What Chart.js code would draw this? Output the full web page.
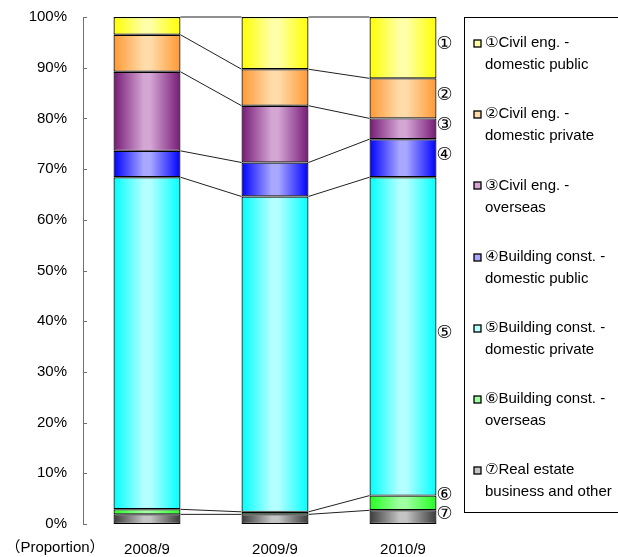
<!DOCTYPE html>
<html>
<head>
<meta charset="utf-8">
<script src="https://cdn.jsdelivr.net/npm/chart.js@4"></script>
<style>
  html, body { margin: 0; padding: 0; background: #fff; }
  #wrap { width: 618px; height: 557px; }
</style>
</head>
<body>
<div id="wrap"><canvas id="chart" width="618" height="557"></canvas></div>
<script>
// ── data (percent of total) ──────────────────────────────────────────────────
const CATEGORIES = ['2008/9', '2009/9', '2010/9'];
const CIVIL_PUBLIC    = [3.5, 10.3, 12.1];
const CIVIL_PRIVATE   = [7.3, 7.2, 7.9];
const CIVIL_OVERSEAS  = [15.6, 11.2, 4.1];
const BUILD_PUBLIC    = [5.2, 6.7, 7.5];
const BUILD_PRIVATE   = [65.5, 62.2, 62.8];
const BUILD_OVERSEAS  = [1.0, 0.5, 2.9];
const REAL_ESTATE     = [1.9, 1.9, 2.7];
const MARKS = ['①', '②', '③', '④', '⑤', '⑥', '⑦'];
const LEGEND_TEXT = [
  ['①Civil eng. -', 'domestic public'],
  ['②Civil eng. -', 'domestic private'],
  ['③Civil eng. -', 'overseas'],
  ['④Building const. -', 'domestic public'],
  ['⑤Building const. -', 'domestic private'],
  ['⑥Building const. -', 'overseas'],
  ['⑦Real estate', 'business and other']
];
const Y_AXIS_NOTE = '（Proportion）';

// top → bottom order, same as legend
const SERIES = [CIVIL_PUBLIC, CIVIL_PRIVATE, CIVIL_OVERSEAS, BUILD_PUBLIC,
                BUILD_PRIVATE, BUILD_OVERSEAS, REAL_ESTATE];

// gradient colours: edge / centre
const EDGE   = ['#ffff00', '#ff9933', '#761a76', '#0000ff', '#00ffff', '#22ff22', '#3a3a3a'];
const CENTRE = ['#ffffa8', '#ffdcaa', '#d4a6d4', '#a8a8ff', '#b4ffff', '#a0ffa0', '#c4c4c4'];

const FONT = "'Liberation Sans', 'DejaVu Sans', 'Noto Sans CJK JP', sans-serif";
const BAR_PCT = 0.523;

function barGradient(idx) {
  return (c) => {
    const chart = c.chart;
    const xs = chart.scales.x;
    if (!xs || !chart.chartArea) return EDGE[idx];
    const cx = xs.getPixelForValue(c.dataIndex);
    const half = (xs.width / CATEGORIES.length) * BAR_PCT / 2;
    const g = chart.ctx.createLinearGradient(cx - half, 0, cx + half, 0);
    g.addColorStop(0, EDGE[idx]);
    g.addColorStop(0.45, CENTRE[idx]);
    g.addColorStop(0.55, CENTRE[idx]);
    g.addColorStop(1, EDGE[idx]);
    return g;
  };
}

// bottom series first so the stack matches the picture
const datasets = SERIES.map((data, i) => ({
  label: LEGEND_TEXT[i].join(' '),
  data: data,
  backgroundColor: barGradient(i),
  borderColor: '#000',
  borderWidth: 1.2,
  borderSkipped: false,
  barPercentage: BAR_PCT,
  categoryPercentage: 1,
  _idx: i
})).reverse();

// ── plugins ──────────────────────────────────────────────────────────────────
const seriesLines = {
  id: 'seriesLines',
  afterDatasetsDraw(chart) {
    const ctx = chart.ctx;
    ctx.save();
    ctx.strokeStyle = '#202020';
    ctx.lineWidth = 1;
    chart.data.datasets.forEach((ds, di) => {
      const bars = chart.getDatasetMeta(di).data;
      for (let i = 0; i < bars.length - 1; i++) {
        const a = bars[i], b = bars[i + 1];
        ctx.beginPath();
        ctx.moveTo(a.x + a.width / 2, a.y);
        ctx.lineTo(b.x - b.width / 2, b.y);
        ctx.stroke();
      }
    });
    ctx.restore();
  }
};

const innerTicks = {
  id: 'innerTicks',
  afterDraw(chart) {
    const ys = chart.scales.y;
    const ctx = chart.ctx;
    ctx.save();
    ctx.strokeStyle = '#707070';
    ctx.lineWidth = 1;
    ys.ticks.forEach(t => {
      const y = Math.round(ys.getPixelForValue(t.value)) + 0.5;
      ctx.beginPath();
      ctx.moveTo(ys.right, y);
      ctx.lineTo(ys.right + 4, y);
      ctx.stroke();
    });
    ctx.restore();
  }
};

const segmentMarks = {
  id: 'segmentMarks',
  afterDraw(chart) {
    const ctx = chart.ctx;
    const last = CATEGORIES.length - 1;
    ctx.save();
    ctx.font = "18px 'DejaVu Sans', " + FONT;
    ctx.fillStyle = '#000';
    ctx.textAlign = 'center';
    ctx.textBaseline = 'middle';
    let prevY = Infinity;
    // datasets are bottom first
    chart.data.datasets.forEach((ds, di) => {
      const bar = chart.getDatasetMeta(di).data[last];
      let y = (bar.y + bar.base) / 2 - 3;
      if (y > prevY - 19) y = prevY - 19;
      prevY = y;
      ctx.fillText(MARKS[ds._idx], bar.x + bar.width / 2 + 8, y);
    });
    ctx.restore();
  }
};

const sideLegend = {
  id: 'sideLegend',
  afterDraw(chart) {
    const ctx = chart.ctx;
    ctx.save();
    ctx.strokeStyle = '#000';
    ctx.lineWidth = 1;
    ctx.strokeRect(464.5, 17.5, 200, 495);
    ctx.font = '15px ' + FONT;
    ctx.textBaseline = 'middle';
    ctx.textAlign = 'left';
    LEGEND_TEXT.forEach((lines, i) => {
      const y = 43 + i * 71.2;
      ctx.fillStyle = CENTRE[i];
      ctx.fillRect(474, Math.round(y) - 3, 7, 7);
      ctx.strokeStyle = '#000';
      ctx.lineWidth = 1.3;
      ctx.strokeRect(474, Math.round(y) - 3, 7, 7);
      ctx.fillStyle = '#000';
      ctx.fillText(lines[0], 485, y);
      ctx.fillText(lines[1], 485, y + 22);
    });
    ctx.textAlign = 'center';
    ctx.fillText(Y_AXIS_NOTE, 55, 548);
    ctx.restore();
  }
};

// ── chart ────────────────────────────────────────────────────────────────────
const chart = new Chart(document.getElementById('chart').getContext('2d'), {
  type: 'bar',
  data: { labels: CATEGORIES, datasets: datasets },
  options: {
    responsive: false,
    animation: false,
    layout: { padding: { left: 0, right: 151, top: 6, bottom: 0 } },
    scales: {
      x: {
        stacked: true,
        grid: { display: false },
        border: { display: false },
        ticks: { color: '#000', font: { family: FONT, size: 15 }, padding: 9 },
        afterFit(scale) { scale.height = 33; }
      },
      y: {
        stacked: true,
        min: 0,
        max: 100,
        grid: { display: false },
        border: { display: true, color: '#707070', width: 1 },
        ticks: {
          stepSize: 10,
          color: '#000',
          font: { family: FONT, size: 15 },
          padding: 8,
          callback: (v) => v + '%'
        },
        afterFit(scale) { scale.width = 83; }
      }
    },
    plugins: {
      legend: { display: false },
      tooltip: { enabled: false }
    }
  },
  plugins: [seriesLines, innerTicks, segmentMarks, sideLegend]
});
</script>
</body>
</html>
